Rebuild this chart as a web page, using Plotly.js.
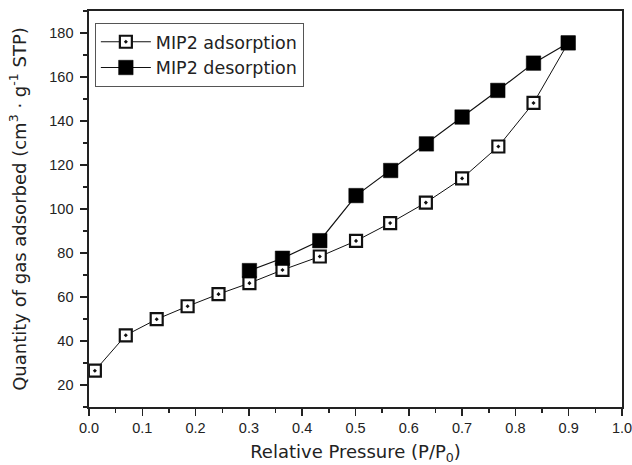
<!DOCTYPE html>
<html>
<head>
<meta charset="utf-8">
<script src="https://cdn.plot.ly/plotly-3.0.1.min.js"></script>
<style>html,body{margin:0;padding:0;background:#fff;}#chart{width:632px;height:465px;}</style>
</head>
<body>
<div id="chart"></div>
<script>
var adsX = [0.011, 0.069, 0.127, 0.185, 0.243, 0.301, 0.363, 0.433, 0.501, 0.565, 0.632, 0.700, 0.768, 0.834, 0.899];
var adsY = [26.5, 42.6, 49.9, 55.8, 61.3, 66.3, 72.3, 78.4, 85.5, 93.6, 102.9, 113.9, 128.4, 148.2, 175.5];
var desX = [0.899, 0.834, 0.767, 0.700, 0.633, 0.566, 0.501, 0.433, 0.363, 0.301];
var desY = [175.5, 166.3, 153.9, 141.8, 129.6, 117.5, 106.1, 85.6, 77.6, 72.0];
var seriesNames = ["MIP2 adsorption", "MIP2 desorption"];

var tickFont = "Liberation Sans, Arial, sans-serif";
var titleFont = "DejaVu Sans, sans-serif";
var traces = [
  {x: adsX, y: adsY, name: seriesNames[0], type: "scatter", mode: "lines+markers",
   line: {color: "#111", width: 1},
   marker: {symbol: "square-dot", size: 12, color: "#fff", line: {color: "#111", width: 2.2}}},
  {x: desX, y: desY, name: seriesNames[1], type: "scatter", mode: "lines+markers",
   line: {color: "#111", width: 1.2},
   marker: {symbol: "square", size: 14.5, color: "#000", line: {color: "#000", width: 0.5}}}
];

var axisCommon = {
  showline: true, mirror: true, linecolor: "#222", linewidth: 1.6,
  ticks: "outside", ticklen: 7, tickwidth: 1.5, tickcolor: "#222",
  showgrid: false, zeroline: false, ticklabeloverflow: "allow",
  tickfont: {family: tickFont, size: 14.5, color: "#222"}
};

var layout = {
  width: 632, height: 465,
  margin: {l: 89, r: 10, t: 11, b: 58},
  paper_bgcolor: "#fff", plot_bgcolor: "#fff",
  showlegend: true,
  legend: {x: 0.011, y: 0.97, xanchor: "left", yanchor: "top",
           bordercolor: "#555", borderwidth: 1, bgcolor: "#fff", itemwidth: 50,
           font: {family: titleFont, size: 17.5, color: "#222"}, tracegroupgap: 0},
  xaxis: Object.assign({}, axisCommon, {
    range: [0, 1], dtick: 0.1, tick0: 0, tickformat: ".1f",
    minor: {dtick: 0.05, ticks: "outside", ticklen: 4, tickwidth: 1.5, tickcolor: "#222"},
    title: {text: "Relative Pressure (P/P<sub>0</sub>)", font: {family: titleFont, size: 18, color: "#222"}, standoff: 10}
  }),
  yaxis: Object.assign({}, axisCommon, {
    range: [10, 190], dtick: 20, tick0: 20, ticklabelstandoff: 4,
    minor: {dtick: 10, ticks: "outside", ticklen: 4, tickwidth: 1.5, tickcolor: "#222"},
    title: {text: "Quantity of gas adsorbed (cm<sup>3</sup> · g<sup>-1</sup> STP)", font: {family: titleFont, size: 18, color: "#222"}, standoff: 18}
  })
};

Plotly.newPlot("chart", traces, layout, {displayModeBar: false, staticPlot: true});
</script>
</body>
</html>
